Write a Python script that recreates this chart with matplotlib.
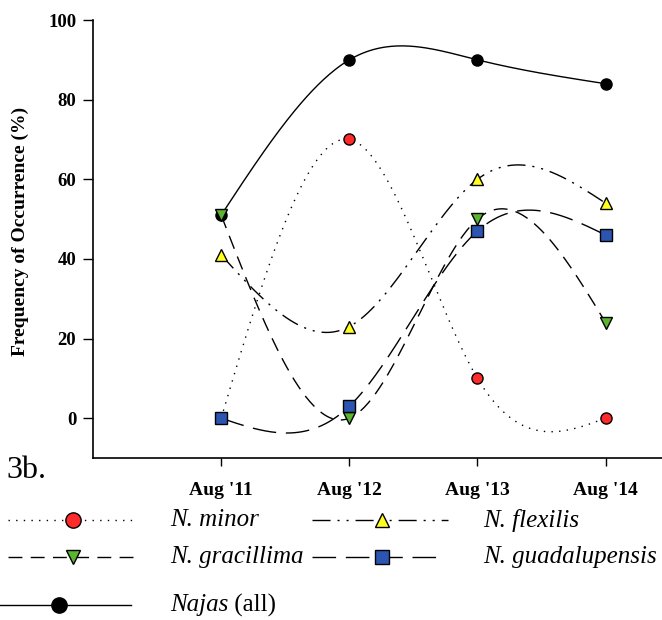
import numpy as np
import matplotlib
matplotlib.use('Agg')
import matplotlib.pyplot as plt
from matplotlib.lines import Line2D

# Frequency of occurrence (%) by survey year
years = ["Aug '11", "Aug '12", "Aug '13", "Aug '14"]
minor = [0, 70, 10, 0]
flexilis = [41, 23, 60, 54]
gracillima = [51, 0, 50, 24]
guadalupensis = [0, 3, 47, 46]
najas_all = [51, 90, 90, 84]

plt.rcParams['font.family'] = ['Liberation Serif', 'DejaVu Serif']


def spline(x, y, n=200):
    # natural cubic spline through the points (smooth curve like the original)
    x = np.asarray(x, float)
    y = np.asarray(y, float)
    k = len(x)
    h = np.diff(x)
    A = np.zeros((k, k))
    b = np.zeros(k)
    A[0, 0] = A[-1, -1] = 1
    for i in range(1, k - 1):
        A[i, i - 1] = h[i - 1]
        A[i, i] = 2 * (h[i - 1] + h[i])
        A[i, i + 1] = h[i]
        b[i] = 6 * ((y[i + 1] - y[i]) / h[i] - (y[i] - y[i - 1]) / h[i - 1])
    M = np.linalg.solve(A, b)
    xs = np.linspace(x[0], x[-1], n)
    j = np.clip(np.searchsorted(x, xs) - 1, 0, k - 2)
    t0 = x[j + 1] - xs
    t1 = xs - x[j]
    hj = h[j]
    ys = (M[j] * t0**3 + M[j + 1] * t1**3) / (6 * hj) \
        + (y[j] / hj - M[j] * hj / 6) * t0 + (y[j + 1] / hj - M[j + 1] * hj / 6) * t1
    return xs, ys


series = [
    # data, style, marker, colour
    (najas_all, '-', 'o', 'black', 'Najas'),
    (minor, (0, (1, 4.5)), 'o', '#ff2a2a', 'N. minor'),
    (flexilis, (0, (13, 5, 1.5, 5, 1.5, 5)), '^', '#ffff20', 'N. flexilis'),
    (gracillima, (0, (10, 6)), 'v', '#5cb531', 'N. gracillima'),
    (guadalupensis, (0, (17, 7)), 's', '#2b55b0', 'N. guadalupensis'),
]

fig = plt.figure(figsize=(6.62, 6.2), dpi=100)
ax = fig.add_axes([0.1405, 0.2613, 0.8595, 0.7064])

xpos = np.arange(1, len(years) + 1)
for vals, ls, mk, col, name in series:
    xs, ys = spline(xpos, vals)
    ax.plot(xs, ys, color='black', lw=1.0, linestyle=ls)
    ax.plot(xpos, vals, linestyle='none', marker=mk, markersize=8,
            markerfacecolor=col, markeredgecolor='black', markeredgewidth=1)

ax.set_xlim(0, 4.44)
ax.set_ylim(-10, 100)
ax.set_yticks([0, 20, 40, 60, 80, 100])
ax.set_xticks(xpos)
ax.set_xticklabels(years, fontweight='bold', fontsize=14)
for lab in ax.get_yticklabels():
    lab.set_fontweight('bold')
    lab.set_fontsize(13.5)
ax.tick_params(axis='x', length=6, pad=11, width=1)
ax.tick_params(axis='y', length=7, pad=5, width=1)
ax.spines['top'].set_visible(False)
ax.spines['right'].set_visible(False)
ax.spines['left'].set_linewidth(1.2)
ax.spines['bottom'].set_linewidth(1.2)
ax.set_ylabel('Frequency of Occurrence (%)', fontweight='bold', fontsize=14)
ax.yaxis.set_label_coords(-0.112, 0.518)

fig.text(0.010, 0.241, '3b.', fontsize=23, va='center', ha='left')

# hand-placed legend below the chart
W, H = 662.0, 620.0
legend_rows = [
    (8, 137, 73, 520, 1, 170, 'N. minor', ''),
    (312, 448, 382, 520, 2, 483, 'N. flexilis', ''),
    (8, 137, 73, 557, 3, 170, 'N. gracillima', ''),
    (312, 437, 382, 557, 4, 483, 'N. guadalupensis', ''),
    (0, 131, 59, 605, 0, 170, 'Najas', ' (all)'),
]
for x0, x1, xm, yy, si, xt, txt, extra in legend_rows:
    vals, ls, mk, col, name = series[si]
    fy = 1 - yy / H
    fig.add_artist(Line2D([x0 / W, x1 / W], [fy, fy], transform=fig.transFigure,
                          color='black', lw=1.0, linestyle=ls))
    fig.add_artist(Line2D([xm / W], [fy], transform=fig.transFigure, marker=mk,
                          markersize=11 if mk == 'o' else 10, markerfacecolor=col,
                          markeredgecolor='black', markeredgewidth=1, linestyle='none'))
    t = fig.text(xt / W, fy, txt, fontsize=18, style='italic', va='center', ha='left')
    if extra:
        fig.canvas.draw()
        bb = t.get_window_extent()
        fig.text(bb.x1 / W, fy, extra, fontsize=18, va='center', ha='left')

fig.savefig('out.png', dpi=100)
